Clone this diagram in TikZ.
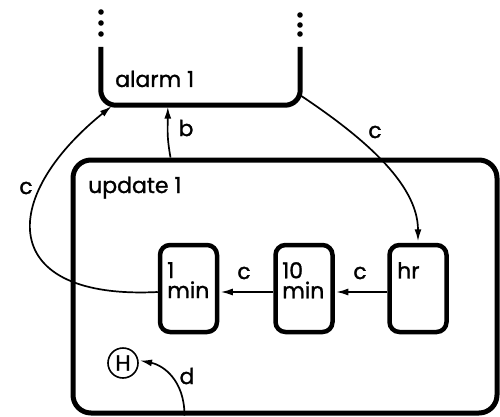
\documentclass[tikz,border=0pt]{standalone}
\usepackage{fontspec}
\setmainfont{Poppins}[FakeBold=1.2]
\usetikzlibrary{arrows.meta}

\tikzset{
  statebox/.style={draw,line width=4.5pt,rounded corners=10pt,minimum width=57pt,minimum height=87pt,inner sep=0pt},
  boxtext/.style={anchor=north west,inner sep=0pt,align=left},
  trans/.style={line width=1.7pt,-{Latex[length=12pt,width=7pt]},shorten >=1.5pt},
}

\begin{document}
\begin{tikzpicture}[x=1pt,y=-1pt,font=\fontsize{22}{20}\selectfont]
\useasboundingbox (0,0) rectangle (500,417);
\node[minimum width=199pt,minimum height=58pt,inner sep=0pt] (alarm) at (200.5,76) {};
\draw[line width=5pt,rounded corners=15pt] (alarm.north west)--(alarm.south west)--(alarm.south east)--(alarm.north east);
\foreach \y in {12,23,34}{\fill (101,\y) circle (2.8pt);}
\foreach \y in {15,25,34}{\fill (300,\y) circle (2.8pt);}
\node[anchor=base west,inner sep=0pt] (alarmlabel) at (115,87) {alarm 1};
\node[draw,line width=5pt,rounded corners=18pt,minimum width=424pt,minimum height=253pt] (update) at (285,286.5) {};
\node[anchor=base west,inner sep=0pt] (updatelabel) at (88,193) {update 1};
\node[statebox] (min1) at (188.5,288.5) {};
\node[statebox] (min10) at (304,288.5) {};
\node[statebox] (hr) at (418,288.5) {};
\node[boxtext] (min1text) at (167,262) {1\\min};
\node[boxtext] (min10text) at (282,262) {10\\min};
\node[boxtext] (hrtext) at (397,262) {hr};
\node[draw,circle,line width=1.6pt,minimum size=30pt,inner sep=0pt] (H) at (123,363) {H};
\draw[trans] ([yshift=-3.5pt]hr.west) -- ([yshift=-3.5pt]min10.east);
\draw[trans] ([yshift=-3.5pt]min10.west) -- ([yshift=-3.5pt]min1.east);
\draw[trans] ([yshift=-3.5pt]min1.west) .. controls +(-160,8) and +(-115,93) .. ([xshift=12pt]alarm.south west);
\draw[trans] ([xshift=100pt]update.north west) .. controls +(-4,-22) and +(0,22) .. ([xshift=67pt]alarm.south west);
\draw[trans] ([yshift=10pt]alarm.south east) .. controls +(60,40) and +(0,-60) .. (hr.north);
\draw[trans] ([xshift=114pt]update.south west) .. controls +(0,-35) and +(25,5) .. (H.10);
\node (c1) at (26,188) {c};
\node (c2) at (375,132) {c};
\node (c3) at (244,273) {c};
\node (c4) at (360,273) {c};
\node (b) at (186,128) {b};
\node (d) at (187,376) {d};
\end{tikzpicture}
\end{document}
